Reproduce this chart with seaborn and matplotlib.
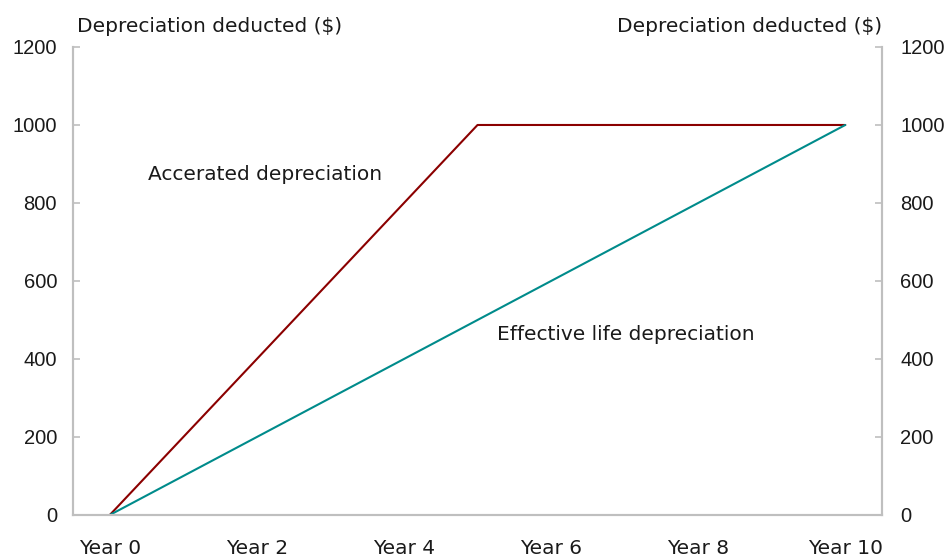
import matplotlib
matplotlib.use("Agg")
import matplotlib.pyplot as plt
from matplotlib.ticker import FixedLocator
import seaborn as sns
import pandas as pd

years = ["Year 0", "Year 1", "Year 2", "Year 3", "Year 4", "Year 5",
         "Year 6", "Year 7", "Year 8", "Year 9", "Year 10"]
accelerated = [0, 200, 400, 600, 800, 1000, 1000, 1000, 1000, 1000, 1000]
effective_life = [0, 100, 200, 300, 400, 500, 600, 700, 800, 900, 1000]
y_ticks = [0, 200, 400, 600, 800, 1000, 1200]

df = pd.DataFrame({
    "pos": list(range(len(years))) * 2,
    "value": accelerated + effective_life,
    "series": ["Accelerated"] * len(years) + ["Effective"] * len(years),
})

sns.set_style("white")
plt.rcParams["font.family"] = ["DejaVu Sans"]

FS = 14.5
TXT = "#1a1a1a"
axis_grey = "#BFBFBF"

fig = plt.figure(figsize=(9.47, 5.58), dpi=100)
ax = fig.add_axes([0.0771, 0.0771, 0.8543, 0.8387])

sns.lineplot(data=df, x="pos", y="value", hue="series",
             palette={"Accelerated": "#8B0000", "Effective": "#008B8B"},
             linewidth=1.5, legend=False, ax=ax)

ax.set_xlim(-0.5, len(years) - 0.5)
ax.set_ylim(0, 1200)
ax.set_xlabel("")
ax.set_ylabel("")

# Category labels every second year, tick marks on category boundaries
label_pos = list(range(0, len(years), 2))
ax.set_xticks(label_pos)
ax.set_xticklabels([years[i] for i in label_pos])
ax.xaxis.set_minor_locator(FixedLocator([i - 0.5 for i in range(len(years) + 1)]))
ax.tick_params(axis="x", which="major", length=0, pad=17, labelsize=FS, colors=TXT)
ax.tick_params(axis="x", which="minor", direction="in", length=5, width=1.2, color=axis_grey)

ax2 = ax.twinx()
ax2.set_ylim(0, 1200)

for a, pad in ((ax, 11.5), (ax2, 13)):
    a.set_yticks(y_ticks)
    a.tick_params(axis="y", direction="in", length=5, width=1.2, color=axis_grey,
                  labelsize=FS, labelcolor=TXT, pad=pad)
    for lab in a.get_yticklabels():
        lab.set_fontfamily("Liberation Sans")
    for side in ("left", "right", "bottom"):
        a.spines[side].set_visible(True)
        a.spines[side].set_color(axis_grey)
        a.spines[side].set_linewidth(1.5)
    a.spines["top"].set_visible(False)

ax.text(0.52, 872, "Accerated depreciation", fontsize=FS, va="center", ha="left", color=TXT)
ax.text(5.26, 464, "Effective life depreciation", fontsize=FS, va="center", ha="left", color=TXT)

fig.text(77 / 947, 1 - 27 / 558, "Depreciation deducted ($)", fontsize=FS,
         ha="left", va="center", color=TXT)
fig.text(882 / 947, 1 - 27 / 558, "Depreciation deducted ($)", fontsize=FS,
         ha="right", va="center", color=TXT)

fig.savefig("out.png", dpi=100)
